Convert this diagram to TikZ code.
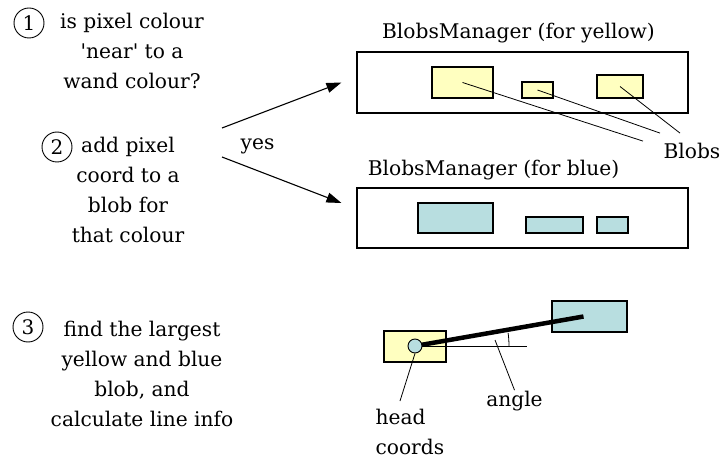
\documentclass[tikz,border=0pt]{standalone}
\usepackage{fontspec}
\setmainfont{DejaVu Serif}
\usetikzlibrary{arrows.meta,positioning}

\definecolor{blobyellow}{RGB}{255,255,192}
\definecolor{blobblue}{RGB}{184,222,224}

\begin{document}
\begin{tikzpicture}[x=1pt, y=-1pt, line width=1.1pt,
    txt/.style = {align=center, inner sep=0pt, font=\fontsize{20.2}{30}\selectfont},
    num/.style = {draw, circle, minimum size=30pt, inner sep=0pt, line width=0.9pt, font=\fontsize{20}{20}\selectfont},
    mgr/.style = {draw, minimum width=331pt, inner sep=0pt},
    yblob/.style = {draw, fill=blobyellow, inner sep=0pt},
    bblob/.style = {draw, fill=blobblue, inner sep=0pt},
    ptr/.style = {line width=0.8pt},
    arr/.style = {-{Triangle[length=15pt,width=10pt]}}]
    \useasboundingbox (0,0) rectangle (722,462);

    % steps on the left
    \node[num] (n1) at (29,23) {1};
    \node[txt] (step1) at (132,51) {is pixel colour\\\textquotesingle near\textquotesingle{} to a\\wand colour?};
    \node[num] (n2) at (57,147) {2};
    \node[txt] (step2) at (128,190) {add pixel\\coord to a\\blob for\\that colour};
    \node[num] (n3) at (28,327) {3};
    \node[txt] (step3) at (142,374) {find the largest\\yellow and blue\\blob, and\\calculate line info};

    % the two managers
    \node[mgr, minimum height=61pt] (ymgr) at (522.5,82.5) {};
    \node[mgr, minimum height=60pt] (bmgr) at (522.5,218) {};
    \node[txt, anchor=base] (ytitle) at (518.5,39) {BlobsManager (for yellow)};
    \node[txt, anchor=base] (btitle) at (493.5,176) {BlobsManager (for blue)};

    \node[yblob, minimum width=61pt, minimum height=31pt] (y1) at (462.5,82.5) {};
    \node[yblob, minimum width=31pt, minimum height=16pt] (y2) at (537.5,90) {};
    \node[yblob, minimum width=46pt, minimum height=23pt] (y3) at (620,86.5) {};
    \node[bblob, minimum width=75pt, minimum height=30pt] (b1) at (455.5,218) {};
    \node[bblob, minimum width=57pt, minimum height=16pt] (b2) at (554.5,225) {};
    \node[bblob, minimum width=31pt, minimum height=16pt] (b3) at (612.5,225) {};

    \node[txt, anchor=base west] (blobs) at (663,159) {Blobs};
    \draw[ptr] (y1.center) -- ([shift={(-20,-2)}]blobs.north west);
    \draw[ptr] (y2.center) -- ([shift={(-3,-10)}]blobs.north west);
    \draw[ptr] (y3.center) -- ([shift={(17,-10)}]blobs.north west);

    % yes arrows
    \node[txt, anchor=base] (yes) at (257.5,150) {yes};
    \coordinate (yesup) at (222,128);
    \coordinate (yesdown) at (222,157);
    \draw[arr] (yesup) -- ([xshift=-15pt]ymgr.west);
    \draw[arr] (yesdown) -- ([shift={(-15,-15)}]bmgr.west);

    % largest blobs and the line between them
    \node[yblob, minimum width=62pt, minimum height=31pt] (hb) at (415,346.5) {};
    \node[bblob, minimum width=75pt, minimum height=31pt] (tb) at (589.5,316.5) {};
    \coordinate (horiz) at (527,346);
    \draw[ptr] (415,346) -- (horiz);
    \draw[line width=4.5pt] (415,346) -- ([xshift=-6pt]tb.center);
    \node[draw, circle, fill=blobblue, minimum size=14pt, inner sep=0pt, line width=0.9pt] (head) at (415,346) {};
    \draw[ptr] ([xshift=94pt]head.center) arc[start angle=0, end angle=8, radius=94pt];

    \node[txt, anchor=base] (angle) at (514.5,406) {angle};
    \coordinate (angletip) at (495,340);
    \draw[ptr] (angle.north) -- (angletip);
    \node[txt, align=left, anchor=north west] (hc) at (375,409) {head\\coords};
    \draw[ptr] ([shift={(25,-8)}]hc.north west) -- (head.south);
\end{tikzpicture}
\end{document}
